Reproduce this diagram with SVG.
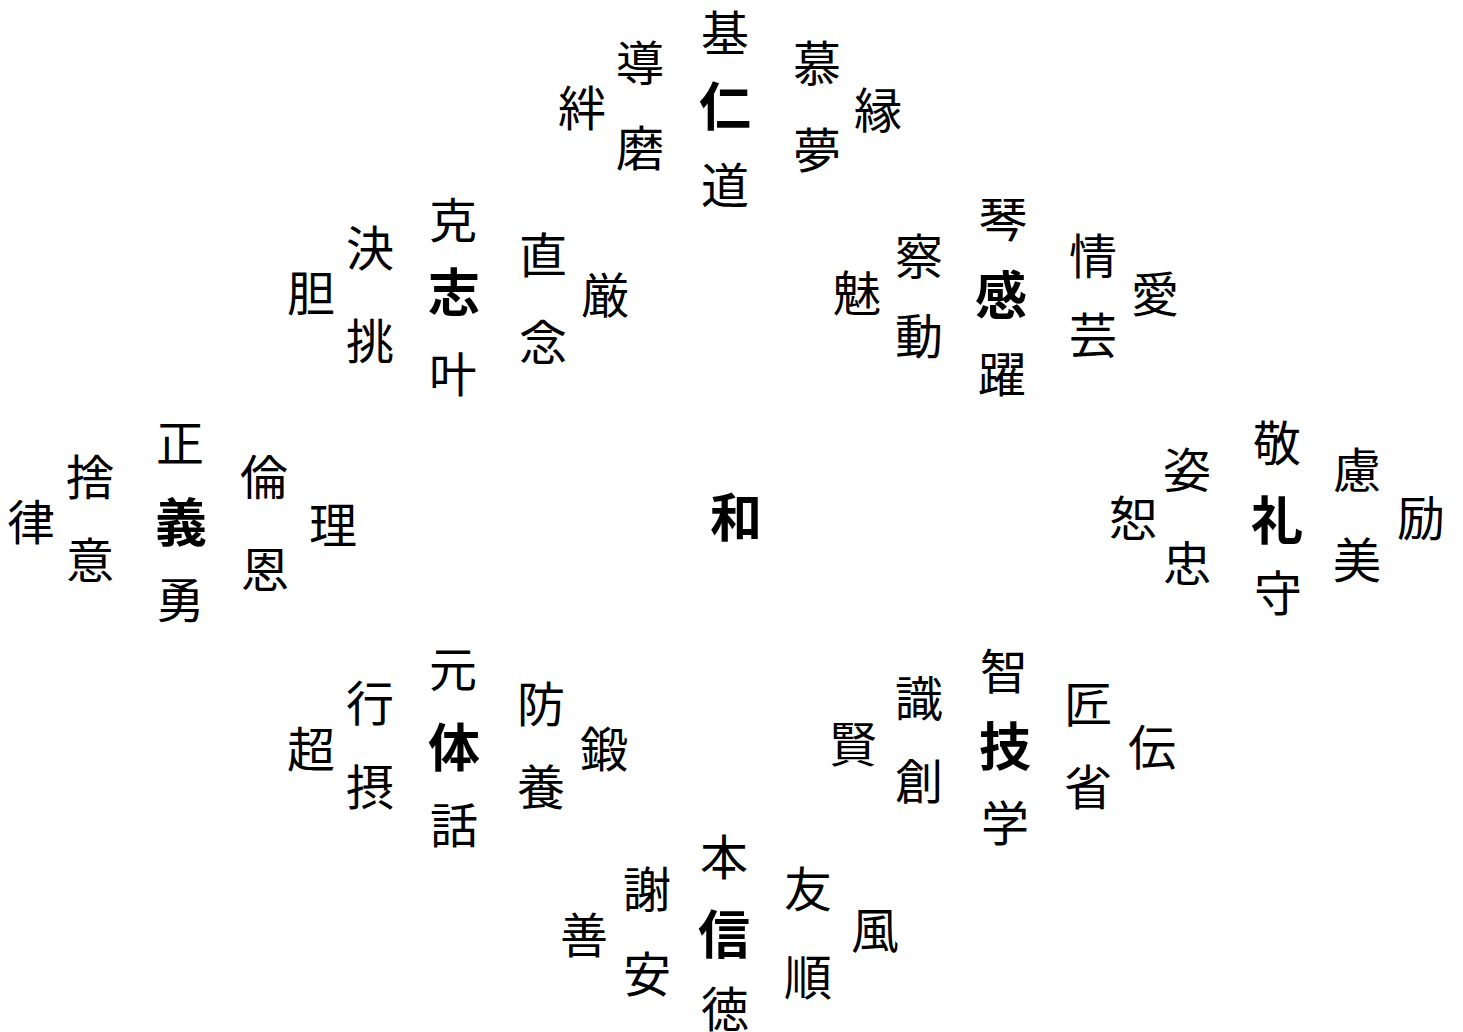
<svg xmlns="http://www.w3.org/2000/svg" width="1463" height="1032" viewBox="0 0 1463 1032">
<style>
text{font-family:"Noto Sans CJK JP","Noto Sans CJK SC",sans-serif;text-anchor:middle;fill:#000}
.c{font-size:48px;font-weight:400}
.b{font-size:52px;font-weight:700}
</style>
<rect width="1463" height="1032" fill="#fff"/>
<g id="center"><text class="b" x="736" y="537">和</text></g>
<g id="jin">
<text class="b" x="725" y="126">仁</text>
<text class="c" x="725" y="51">基</text>
<text class="c" x="725" y="203">道</text>
<text class="c" x="640" y="81">導</text>
<text class="c" x="640" y="166">磨</text>
<text class="c" x="582" y="126">絆</text>
<text class="c" x="817" y="81">慕</text>
<text class="c" x="817" y="168">夢</text>
<text class="c" x="878" y="128">縁</text>
</g>
<g id="shi">
<text class="b" x="454" y="312">志</text>
<text class="c" x="453" y="238">克</text>
<text class="c" x="453" y="392">叶</text>
<text class="c" x="370" y="266">決</text>
<text class="c" x="370" y="359">挑</text>
<text class="c" x="311" y="311">胆</text>
<text class="c" x="543" y="273">直</text>
<text class="c" x="543" y="360">念</text>
<text class="c" x="605" y="313">厳</text>
</g>
<g id="kan">
<text class="b" x="1001" y="315">感</text>
<text class="c" x="1003" y="237">琴</text>
<text class="c" x="1002" y="392">躍</text>
<text class="c" x="919" y="274">察</text>
<text class="c" x="919" y="354">動</text>
<text class="c" x="857" y="311">魅</text>
<text class="c" x="1093" y="274">情</text>
<text class="c" x="1093" y="353">芸</text>
<text class="c" x="1155" y="312">愛</text>
</g>
<g id="gi">
<text class="b" x="181" y="542">義</text>
<text class="c" x="180" y="461">正</text>
<text class="c" x="180" y="618">勇</text>
<text class="c" x="90" y="495">捨</text>
<text class="c" x="90" y="578">意</text>
<text class="c" x="31" y="540">律</text>
<text class="c" x="264" y="495">倫</text>
<text class="c" x="265" y="587">恩</text>
<text class="c" x="333" y="543">理</text>
</g>
<g id="rei">
<text class="b" x="1277" y="540">礼</text>
<text class="c" x="1277" y="461">敬</text>
<text class="c" x="1278" y="611">守</text>
<text class="c" x="1187" y="488">姿</text>
<text class="c" x="1187" y="581">忠</text>
<text class="c" x="1133" y="536">恕</text>
<text class="c" x="1357" y="488">慮</text>
<text class="c" x="1357" y="578">美</text>
<text class="c" x="1421" y="536">励</text>
</g>
<g id="waza">
<text class="b" x="1005" y="766">技</text>
<text class="c" x="1004" y="689">智</text>
<text class="c" x="1005" y="841">学</text>
<text class="c" x="919" y="716">識</text>
<text class="c" x="919" y="799">創</text>
<text class="c" x="853" y="762">賢</text>
<text class="c" x="1088" y="722">匠</text>
<text class="c" x="1088" y="805">省</text>
<text class="c" x="1152" y="765">伝</text>
</g>
<g id="tai">
<text class="b" x="454" y="767">体</text>
<text class="c" x="453" y="687">元</text>
<text class="c" x="454" y="843">話</text>
<text class="c" x="370" y="721">行</text>
<text class="c" x="370" y="805">摂</text>
<text class="c" x="311" y="767">超</text>
<text class="c" x="541" y="722">防</text>
<text class="c" x="541" y="805">養</text>
<text class="c" x="604" y="767">鍛</text>
</g>
<g id="shin">
<text class="b" x="724" y="954">信</text>
<text class="c" x="724" y="875">本</text>
<text class="c" x="725" y="1027">徳</text>
<text class="c" x="647" y="907">謝</text>
<text class="c" x="647" y="992">安</text>
<text class="c" x="584" y="953">善</text>
<text class="c" x="808" y="907">友</text>
<text class="c" x="808" y="995">順</text>
<text class="c" x="875" y="948">風</text>
</g>
</svg>
